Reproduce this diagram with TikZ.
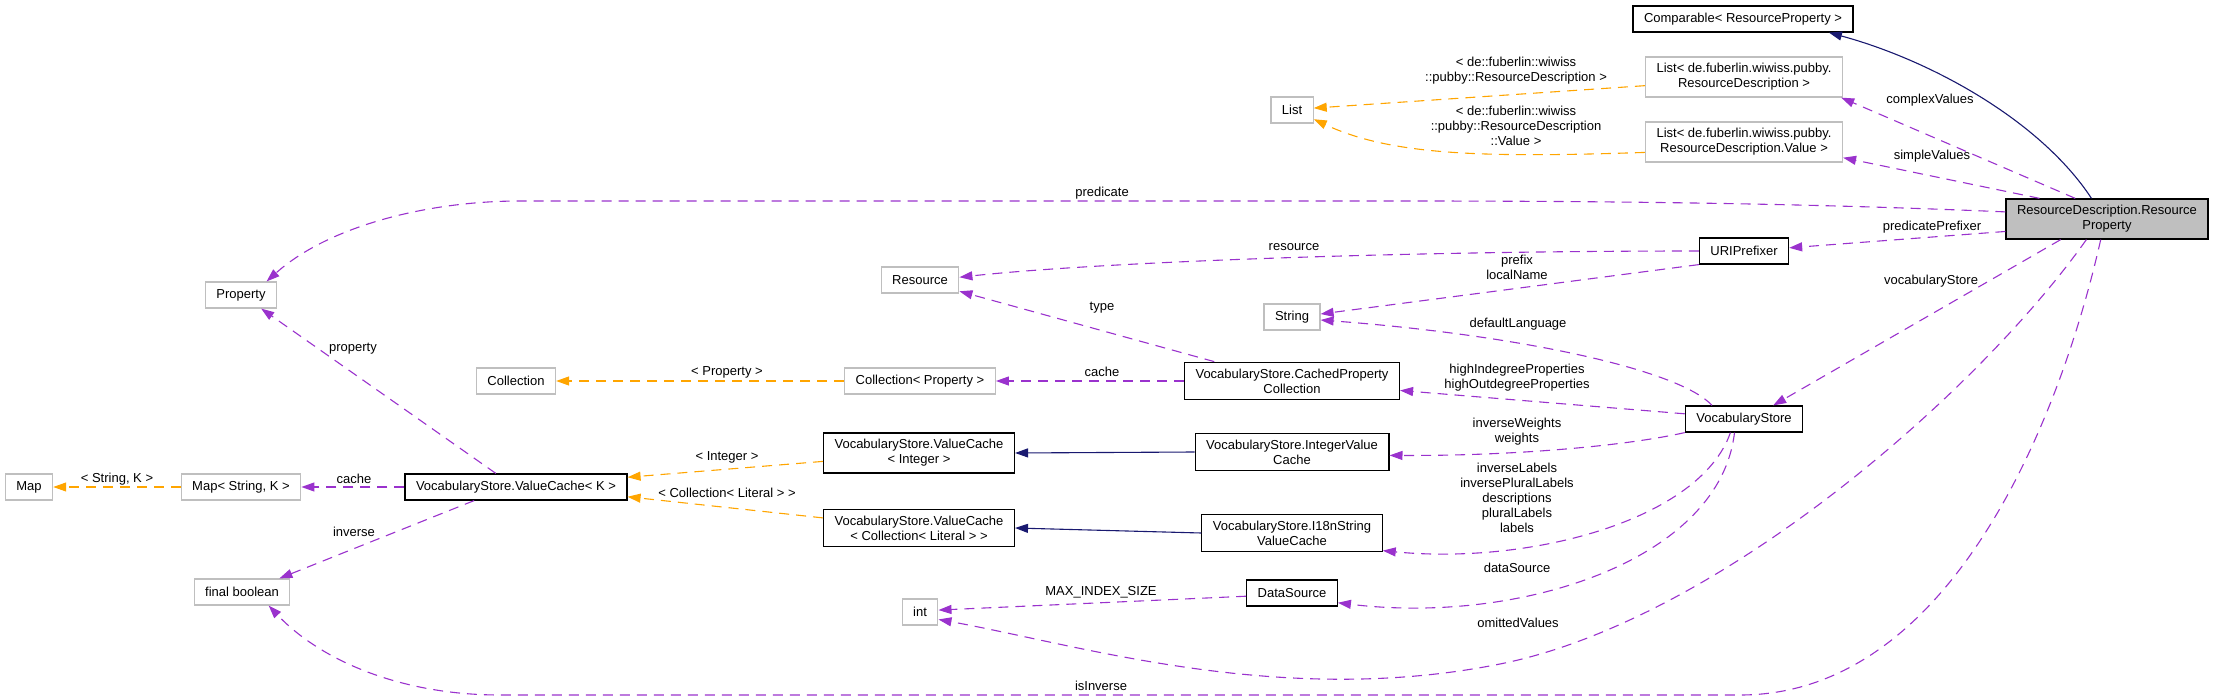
\documentclass[tikz,border=0pt]{standalone}
\usepackage{fontspec}
\setmainfont{Liberation Sans}
\usetikzlibrary{arrows.meta}
\definecolor{usepurple}{HTML}{9A32CD}
\definecolor{tmplorange}{HTML}{FFA500}
\definecolor{inhnavy}{HTML}{191970}
\definecolor{extgray}{HTML}{BFBFBF}
\tikzset{
  cls/.style={draw=black,line width=1.2pt,fill=white,inner xsep=11pt,inner ysep=6.5pt,minimum height=26pt,align=center},
  ext/.style={cls,draw=extgray},
  mainbox/.style={cls,fill=extgray},
  usage/.style={draw=usepurple,line width=1.1pt,dash pattern=on 10pt off 7pt,-{Triangle[length=13pt,width=9pt]}},
  tmpl/.style={usage,draw=tmplorange},
  inh/.style={draw=inhnavy,line width=1.1pt,-{Triangle[length=13pt,width=9pt]}},
  lbl/.style={align=center,inner sep=0pt},
}
\begin{document}
\begin{tikzpicture}[x=1pt,y=-1pt,font=\fontsize{13}{15}\selectfont]
        \useasboundingbox (0,0) rectangle (2215,700);
        %% Classes
        \node[cls] (comparable) at (1743,19) {Comparable< ResourceProperty >};
        \node[ext] (listrd) at (1744,77) {List< de.fuberlin.wiwiss.pubby.\\ResourceDescription >};
        \node[ext] (listval) at (1744,142) {List< de.fuberlin.wiwiss.pubby.\\ResourceDescription.Value >};
        \node[mainbox] (rdprop) at (2107,219) {ResourceDescription.Resource\\Property};
        \node[cls] (uriprefixer) at (1744,251) {URIPrefixer};
        \node[cls] (vocab) at (1744,419) {VocabularyStore};
        \node[ext] (list) at (1292,110) {List};
        \node[ext] (string) at (1292,317) {String};
        \node[cls] (cachedcoll) at (1292,381) {VocabularyStore.CachedProperty\\Collection};
        \node[cls] (intcache) at (1292,452) {VocabularyStore.IntegerValue\\Cache};
        \node[cls] (i18ncache) at (1292,533) {VocabularyStore.I18nString\\ValueCache};
        \node[cls] (datasource) at (1292,593) {DataSource};
        \node[ext] (resource) at (920,280) {Resource};
        \node[ext] (collprop) at (920,381) {Collection< Property >};
        \node[cls] (vcint) at (919,453) {VocabularyStore.ValueCache\\< Integer >};
        \node[cls] (vclit) at (919,528) {VocabularyStore.ValueCache\\< Collection< Literal > >};
        \node[ext] (intt) at (920,612) {int};
        \node[ext] (collection) at (516,381) {Collection};
        \node[cls] (vck) at (516,487) {VocabularyStore.ValueCache< K >};
        \node[ext] (property) at (241,295) {Property};
        \node[ext] (mapsk) at (241,487) {Map< String, K >};
        \node[ext] (finalbool) at (242,592) {final boolean};
        \node[ext] (map) at (29,487) {Map};
        %% Inheritance
        \draw[inh] (rdprop.127) .. controls (2040,120) and (1930,60) .. (comparable.-9);
        \draw[inh] (intcache.west) -- (vcint.east);
        \draw[inh] (i18ncache.west) -- (vclit.east);
        %% Template instances
        \draw[tmpl] (listrd.185) -- (list.5);
        \draw[tmpl] (listval.186) .. controls (1480,158) and (1390,155) .. (list.-23);
        \draw[tmpl] (collprop.west) -- (collection.east);
        \draw[tmpl] (vcint.185) -- (vck.5);
        \draw[tmpl] (vclit.174) -- (vck.-5);
        \draw[tmpl] (mapsk.west) -- (map.east);
        %% Members of ResourceProperty
        \draw[usage] (rdprop.147) -- (listrd.-12);
        \draw[usage] (rdprop.163) -- (listval.-9);
        \draw[usage] (rdprop.176) .. controls (1800,203) and (1600,201) .. (1400,201) -- (520,201)
            .. controls (430,201) and (330,225) .. (property.28);
        \draw[usage] (rdprop.187) -- (uriprefixer.4);
        \draw[usage] (rdprop.204) -- (vocab.25);
        \draw[usage] (rdprop.225) .. controls (1980,390) and (1720,620) .. (1500,664)
            .. controls (1280,708) and (1080,645) .. (intt.-22);
        \draw[usage] (rdprop.253) .. controls (2060,420) and (1950,695) .. (1740,695) -- (500,695)
            .. controls (400,695) and (320,660) .. (finalbool.-27);
        %% Members of URIPrefixer
        \draw[usage] (uriprefixer.west) .. controls (1400,251) and (1100,262) .. (resource.4);
        \draw[usage] (uriprefixer.south west) -- (string.6);
        %% Members of VocabularyStore
        \draw[usage] (vocab.157) .. controls (1680,370) and (1520,335) .. (string.-6);
        \draw[usage] (vocab.175) -- (cachedcoll.-5);
        \draw[usage] (vocab.south west) .. controls (1630,445) and (1520,456) .. (intcache.-2);
        \draw[usage] (vocab.225) .. controls (1700,520) and (1530,565) .. (i18ncache.-11);
        \draw[usage] (vocab.235) .. controls (1720,560) and (1520,625) .. (datasource.-12);
        %% Other members
        \draw[usage] (cachedcoll.166) -- (resource.-16);
        \draw[usage] (cachedcoll.west) -- (collprop.east);
        \draw[usage] (datasource.184) -- (intt.6);
        \draw[usage] (vck.west) -- (mapsk.east);
        \draw[usage] (vck.146) -- (property.-34);
        \draw[usage] (vck.198) -- (finalbool.20);
        %% Labels
        \node[lbl] (l-complex) at (1930,100) {complexValues};
        \node[lbl] (l-simple) at (1932,156) {simpleValues};
        \node[lbl] (l-predicate) at (1102,193) {predicate};
        \node[lbl] (l-prefixer) at (1932,227) {predicatePrefixer};
        \node[lbl] (l-vocab) at (1931,281) {vocabularyStore};
        \node[lbl] (l-omitted) at (1518,623) {omittedValues};
        \node[lbl] (l-isinverse) at (1101,686) {isInverse};
        \node[lbl] (l-resource) at (1294,247) {resource};
        \node[lbl] (l-prefix) at (1517,267) {prefix\\localName};
        \node[lbl] (l-language) at (1518,324) {defaultLanguage};
        \node[lbl] (l-degree) at (1517,378) {highIndegreeProperties\\highOutdegreeProperties};
        \node[lbl] (l-weights) at (1517,432) {inverseWeights\\weights};
        \node[lbl] (l-labels) at (1517,498) {inverseLabels\\inversePluralLabels\\descriptions\\pluralLabels\\labels};
        \node[lbl] (l-datasource) at (1517,568) {dataSource};
        \node[lbl] (l-type) at (1102,308) {type};
        \node[lbl] (l-cache) at (1102,372) {cache};
        \node[lbl] (l-property) at (727,372) {< Property >};
        \node[lbl] (l-listrd) at (1516,71) {< de::fuberlin::wiwiss\\::pubby::ResourceDescription >};
        \node[lbl] (l-listval) at (1516,126) {< de::fuberlin::wiwiss\\::pubby::ResourceDescription\\::Value >};
        \node[lbl] (l-integer) at (727,457) {< Integer >};
        \node[lbl] (l-literal) at (727,493) {< Collection< Literal > >};
        \node[lbl] (l-mapcache) at (354,479) {cache};
        \node[lbl] (l-stringk) at (117,479) {< String, K >};
        \node[lbl] (l-propmember) at (353,349) {property};
        \node[lbl] (l-inverse) at (354,532) {inverse};
        \node[lbl] (l-maxindex) at (1101,592) {MAX\_INDEX\_SIZE};
    \end{tikzpicture}
\end{document}
